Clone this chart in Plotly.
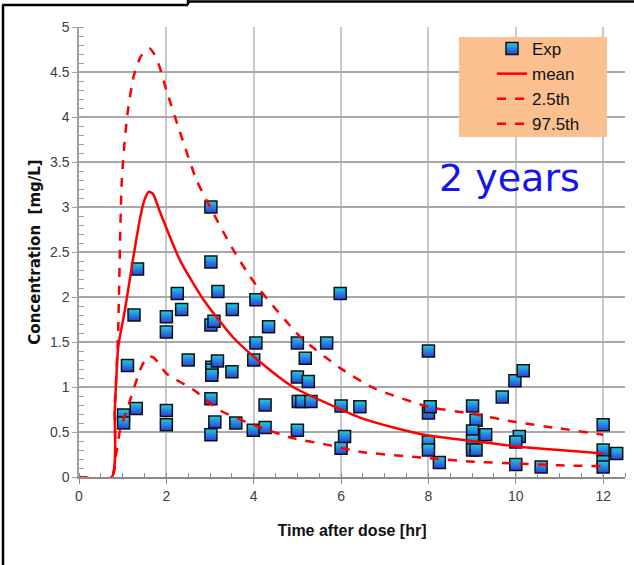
import plotly.graph_objects as go

# ---------------- data ----------------
exp_t = [1.11, 1.02, 1.02, 1.31, 1.26, 1.34,
         2.0, 2.0, 2.0, 2.0, 2.25, 2.35, 2.5,
         3.02, 3.02, 3.02, 3.09, 3.04, 3.04, 3.04, 3.02, 3.02, 3.11, 3.18, 3.17,
         3.5, 3.51, 3.59,
         4.0, 4.05, 4.05, 3.99, 4.26, 4.26, 4.34,
         5.0, 5.0, 5.02, 5.1, 5.0, 5.18, 5.25, 5.31, 5.67,
         5.98, 6.0, 6.0, 6.08, 6.43,
         8.0, 8.0, 8.04, 8.0, 8.0, 8.25,
         9.01, 9.09, 9.01, 9.01, 9.01, 9.09, 9.31,
         9.69, 9.98, 10.17, 10.08, 10.0, 10.0, 10.58,
         12.0, 12.0, 12.0, 12.0, 12.31]
exp_c = [1.24, 0.69, 0.60, 0.76, 1.80, 2.31,
         1.78, 1.61, 0.74, 0.58, 2.04, 1.86, 1.30,
         3.00, 2.39, 1.69, 1.73, 1.22, 1.19, 1.13, 0.87, 0.47, 0.61, 2.06, 1.29,
         1.17, 1.86, 0.60,
         1.30, 1.49, 1.97, 0.52, 0.80, 0.55, 1.67,
         1.49, 1.11, 0.84, 0.84, 0.52, 1.32, 1.06, 0.84, 1.49,
         2.04, 0.79, 0.32, 0.45, 0.78,
         1.40, 0.71, 0.78, 0.39, 0.30, 0.16,
         0.79, 0.63, 0.51, 0.40, 0.30, 0.30, 0.47,
         0.89, 1.07, 1.18, 0.45, 0.39, 0.14, 0.11,
         0.58, 0.30, 0.17, 0.11, 0.26]

mean_t = [0, 0.75, 0.82, 0.9, 1.05, 1.21, 1.4, 1.5, 1.6, 1.7, 1.85, 2.31, 2.85, 3.53,
          4.14, 4.9, 5.67, 6.43, 7.2, 8.0, 9.0, 10.0, 11.0, 12.0]
mean_c = [0, 0, 0.75, 1.45, 1.85, 2.34, 2.88, 3.08, 3.17, 3.14, 2.95, 2.41, 1.97, 1.55,
          1.28, 1.0, 0.82, 0.66, 0.55, 0.46, 0.40, 0.34, 0.30, 0.26]

p025_t = [0, 0.75, 0.85, 0.94, 1.12, 1.4, 1.5, 1.61, 1.7, 1.8, 2.0, 2.62, 3.23, 3.99,
          4.91, 5.67, 6.43, 8.0, 9.03, 10.02, 11.0, 12.0]
p025_c = [0, 0, 0.25, 0.52, 0.78, 1.19, 1.29, 1.34, 1.33, 1.28, 1.15, 0.97, 0.74, 0.58,
          0.43, 0.36, 0.28, 0.21, 0.17, 0.15, 0.13, 0.12]

p975_t = [0, 0.75, 0.82, 0.89, 0.98, 1.1, 1.25, 1.4, 1.52, 1.62, 1.72, 1.85, 2.0, 2.3,
          2.69, 3.0, 3.5, 3.91, 4.14, 5.06, 5.98, 6.74, 8.0, 9.03, 10.0, 11.0, 12.0]
p975_c = [0, 0, 0.8, 1.52, 3.3, 4.0, 4.45, 4.66, 4.74, 4.76, 4.7, 4.55, 4.3, 3.85,
          3.3, 3.0, 2.55, 2.23, 2.08, 1.56, 1.21, 0.99, 0.78, 0.70, 0.61, 0.54, 0.47]

x_ticks = [0, 2, 4, 6, 8, 10, 12]
y_ticks = [0, 0.5, 1, 1.5, 2, 2.5, 3, 3.5, 4, 4.5, 5]

# ---------------- figure ----------------
FONT = "Liberation Sans Narrow, Liberation Sans, Arial, sans-serif"
fig = go.Figure()

fig.add_trace(go.Scatter(
    x=exp_t, y=exp_c, mode="markers", name="Exp",
    marker=dict(symbol="square", size=12, color="#1fd0e0",
                gradient=dict(type="vertical", color="#2a3fe0"),
                line=dict(color="#111111", width=1.5)),
))
fig.add_trace(go.Scatter(
    x=mean_t, y=mean_c, mode="lines", name="mean",
    line=dict(color="#ff0000", width=2.5, shape="spline", smoothing=0.6),
))
fig.add_trace(go.Scatter(
    x=p025_t, y=p025_c, mode="lines", name="2.5th",
    line=dict(color="#ff0000", width=2.5, dash="dash", shape="spline", smoothing=0.6),
))
fig.add_trace(go.Scatter(
    x=p975_t, y=p975_c, mode="lines", name="97.5th",
    line=dict(color="#ff0000", width=2.5, dash="dash", shape="spline", smoothing=0.6),
))

W, H = 634, 565
L, R, T, B = 79, 9, 27, 88
pw, ph = W - L - R, H - T - B


def px(xp):
    return (xp - L) / pw


def py(yp):
    return (H - B - yp) / ph


shapes = [
    # legend background
    dict(type="rect", xref="paper", yref="paper", x0=px(459), x1=px(607),
         y0=py(137), y1=py(37), fillcolor="#fac090", line=dict(width=0), layer="above"),
    # outer frame pieces
    dict(type="line", xref="paper", yref="paper", x0=px(3), x1=px(3),
         y0=py(566), y1=py(5), line=dict(color="black", width=2.5)),
    dict(type="line", xref="paper", yref="paper", x0=px(2), x1=px(188),
         y0=py(5), y1=py(5), line=dict(color="black", width=2.5)),
    dict(type="line", xref="paper", yref="paper", x0=px(188), x1=px(188),
         y0=py(5), y1=py(0), line=dict(color="black", width=2.5)),
    dict(type="line", xref="paper", yref="paper", x0=px(188), x1=px(635),
         y0=py(1.5), y1=py(1.5), line=dict(color="black", width=2.5)),
]

fig.update_layout(
    width=W, height=H,
    margin=dict(l=L, r=R, t=T, b=B),
    paper_bgcolor="white", plot_bgcolor="white",
    font=dict(family=FONT, size=14, color="#404040"),
    shapes=shapes,
    showlegend=True,
    legend=dict(x=px(492), y=py(31), xanchor="left", yanchor="top",
                bgcolor="rgba(0,0,0,0)", font=dict(family=FONT, size=17, color="#111111"),
                tracegroupgap=0),
    annotations=[dict(x=9.85, y=3.32, xref="x", yref="y", text="2 years", showarrow=False,
                      font=dict(family="DejaVu Sans, sans-serif", size=38, color="#1414f0"))],
)

fig.update_xaxes(
    range=[0, 12.5], tickvals=x_ticks, ticktext=[str(v) for v in x_ticks],
    showgrid=True, gridcolor="#c8c8c8", gridwidth=1.5, zeroline=False,
    showline=True, linecolor="#8a8a8a", linewidth=2,
    ticks="outside", ticklen=5, tickcolor="#8a8a8a",
    minor=dict(ticks="inside", ticklen=4, dtick=0.5, tickcolor="#8a8a8a", showgrid=False),
    title=dict(text="<b>Time after dose [hr]</b>", font=dict(family=FONT, size=16, color="#111111"),
               standoff=22),
)
fig.update_yaxes(
    range=[0, 5], tickvals=y_ticks, ticktext=[f"{v:g}" for v in y_ticks],
    showgrid=True, gridcolor="#a8a8a8", gridwidth=1.5, zeroline=False,
    showline=True, linecolor="#a0a0a0", linewidth=1.5,
    ticks="outside", ticklen=5, tickcolor="#a0a0a0",
    minor=dict(ticks="inside", ticklen=5, dtick=0.1, tickcolor="#a0a0a0", showgrid=False),
    title=dict(text="<b>Concentration&nbsp;&nbsp;[mg/L]</b>",
               font=dict(family="DejaVu Sans, sans-serif", size=15, color="#111111"),
               standoff=6),
)

fig.write_html("out.html")
